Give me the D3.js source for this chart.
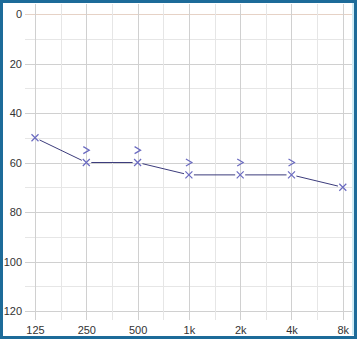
<!DOCTYPE html>
<html><head><meta charset="utf-8">
<script src="https://cdn.jsdelivr.net/npm/d3@7"></script>
<style>html,body{margin:0;padding:0;background:#fff;}svg{display:block;}</style>
</head><body><svg id="c" width="358" height="340"></svg>
<script>
const freqs = [125, 250, 500, 1000, 2000, 4000, 8000];
const freqLabels = ["125", "250", "500", "1k", "2k", "4k", "8k"];
const airValues = [50, 60, 60, 65, 65, 65, 70];
const boneFreqs = [250, 500, 1000, 2000, 4000];
const boneValues = [55, 55, 60, 60, 60];
const dbTicks = [0, 20, 40, 60, 80, 100, 120];

(function() {
const svg = d3.select("#c");
const x = d3.scaleLog().base(2).domain([125, 8000]).range([35, 342.8]);
const y = d3.scaleLinear().domain([0, 120]).range([14, 311]);
const pLeft = 25, pRight = 352, pTop = 4, pBottom = 320;

svg.append("rect").attr("x",0).attr("y",0).attr("width",358).attr("height",340).attr("fill","#fff");

// horizontal grid every 10 dB
const hLines = d3.range(0, 121, 10);
svg.append("g").selectAll("line").data(hLines).join("line")
  .attr("x1", pLeft).attr("x2", pRight)
  .attr("y1", d => Math.round(y(d)) + 0.5).attr("y2", d => Math.round(y(d)) + 0.5)
  .attr("stroke", d => d === 0 ? "#e6d2c6" : (d % 20 === 0 ? "#d0d0d0" : "#e6e6e6"))
  .attr("stroke-width", 1);

// vertical grid: octaves and half-octaves
const vLines = d3.range(0, 13).map(i => 125 * Math.pow(2, i / 2));
svg.append("g").selectAll("line").data(vLines).join("line")
  .attr("y1", pTop).attr("y2", pBottom)
  .attr("x1", d => Math.round(x(d)) + 0.5).attr("x2", d => Math.round(x(d)) + 0.5)
  .attr("stroke", (d, i) => i % 2 === 0 ? "#d0d0d0" : "#e6e6e6")
  .attr("stroke-width", 1);

// y axis labels
const yAxis = d3.axisLeft(y).tickValues(dbTicks).tickSize(0).tickPadding(0);
const gy = svg.append("g").attr("transform", "translate(22,0)").call(yAxis);
gy.select(".domain").remove();
gy.selectAll("text").attr("font-family", "Liberation Sans, Arial, sans-serif").attr("font-size", 11).attr("fill", "#333");

// x axis labels
const xAxis = d3.axisBottom(x).tickValues(freqs).tickFormat((d, i) => freqLabels[i]).tickSize(0).tickPadding(0);
const gx = svg.append("g").attr("transform", "translate(0,326)").call(xAxis);
gx.select(".domain").remove();
gx.selectAll("text").attr("font-family", "Liberation Sans, Arial, sans-serif").attr("font-size", 11).attr("fill", "#333");

// connecting line segments (with a small gap at markers)
const pts = freqs.map((f, i) => [x(f), y(airValues[i])]);
const segs = d3.pairs(pts);
svg.append("g").selectAll("line").data(segs).join("line")
  .each(function(d) {
    const a = d[0], b = d[1];
    const dx = b[0] - a[0], dy = b[1] - a[1];
    const L = Math.hypot(dx, dy), g = 5;
    d3.select(this)
      .attr("x1", a[0] + dx / L * g).attr("y1", a[1] + dy / L * g)
      .attr("x2", b[0] - dx / L * g).attr("y2", b[1] - dy / L * g);
  })
  .attr("stroke", "#3c3c7c").attr("stroke-width", 1);

// X markers
const s = 3.5;
svg.append("g").selectAll("path").data(pts).join("path")
  .attr("d", d => `M${d[0]-s},${d[1]-s}L${d[0]+s},${d[1]+s}M${d[0]-s},${d[1]+s}L${d[0]+s},${d[1]-s}`)
  .attr("stroke", "#6a6ac0").attr("stroke-width", 1.2).attr("fill", "none");

// > markers (bone conduction)
svg.append("g").selectAll("path").data(boneFreqs).join("path")
  .attr("d", (f, i) => {
    const cx = x(f), cy = y(boneValues[i]);
    return `M${cx-3},${cy-3.5}L${cx+3},${cy}L${cx-3},${cy+3.5}`;
  })
  .attr("stroke", "#6a6ac0").attr("stroke-width", 1.2).attr("fill", "none");

// frame
svg.append("rect").attr("x", 1.5).attr("y", 1.5).attr("width", 354).attr("height", 336)
  .attr("fill", "none").attr("stroke", "#1d6b99").attr("stroke-width", 3);
svg.append("line").attr("x1", 353).attr("x2", 353).attr("y1", 3).attr("y2", 335)
  .attr("stroke", "#bfe6f2").attr("stroke-width", 1.5);
})();
</script></body></html>
